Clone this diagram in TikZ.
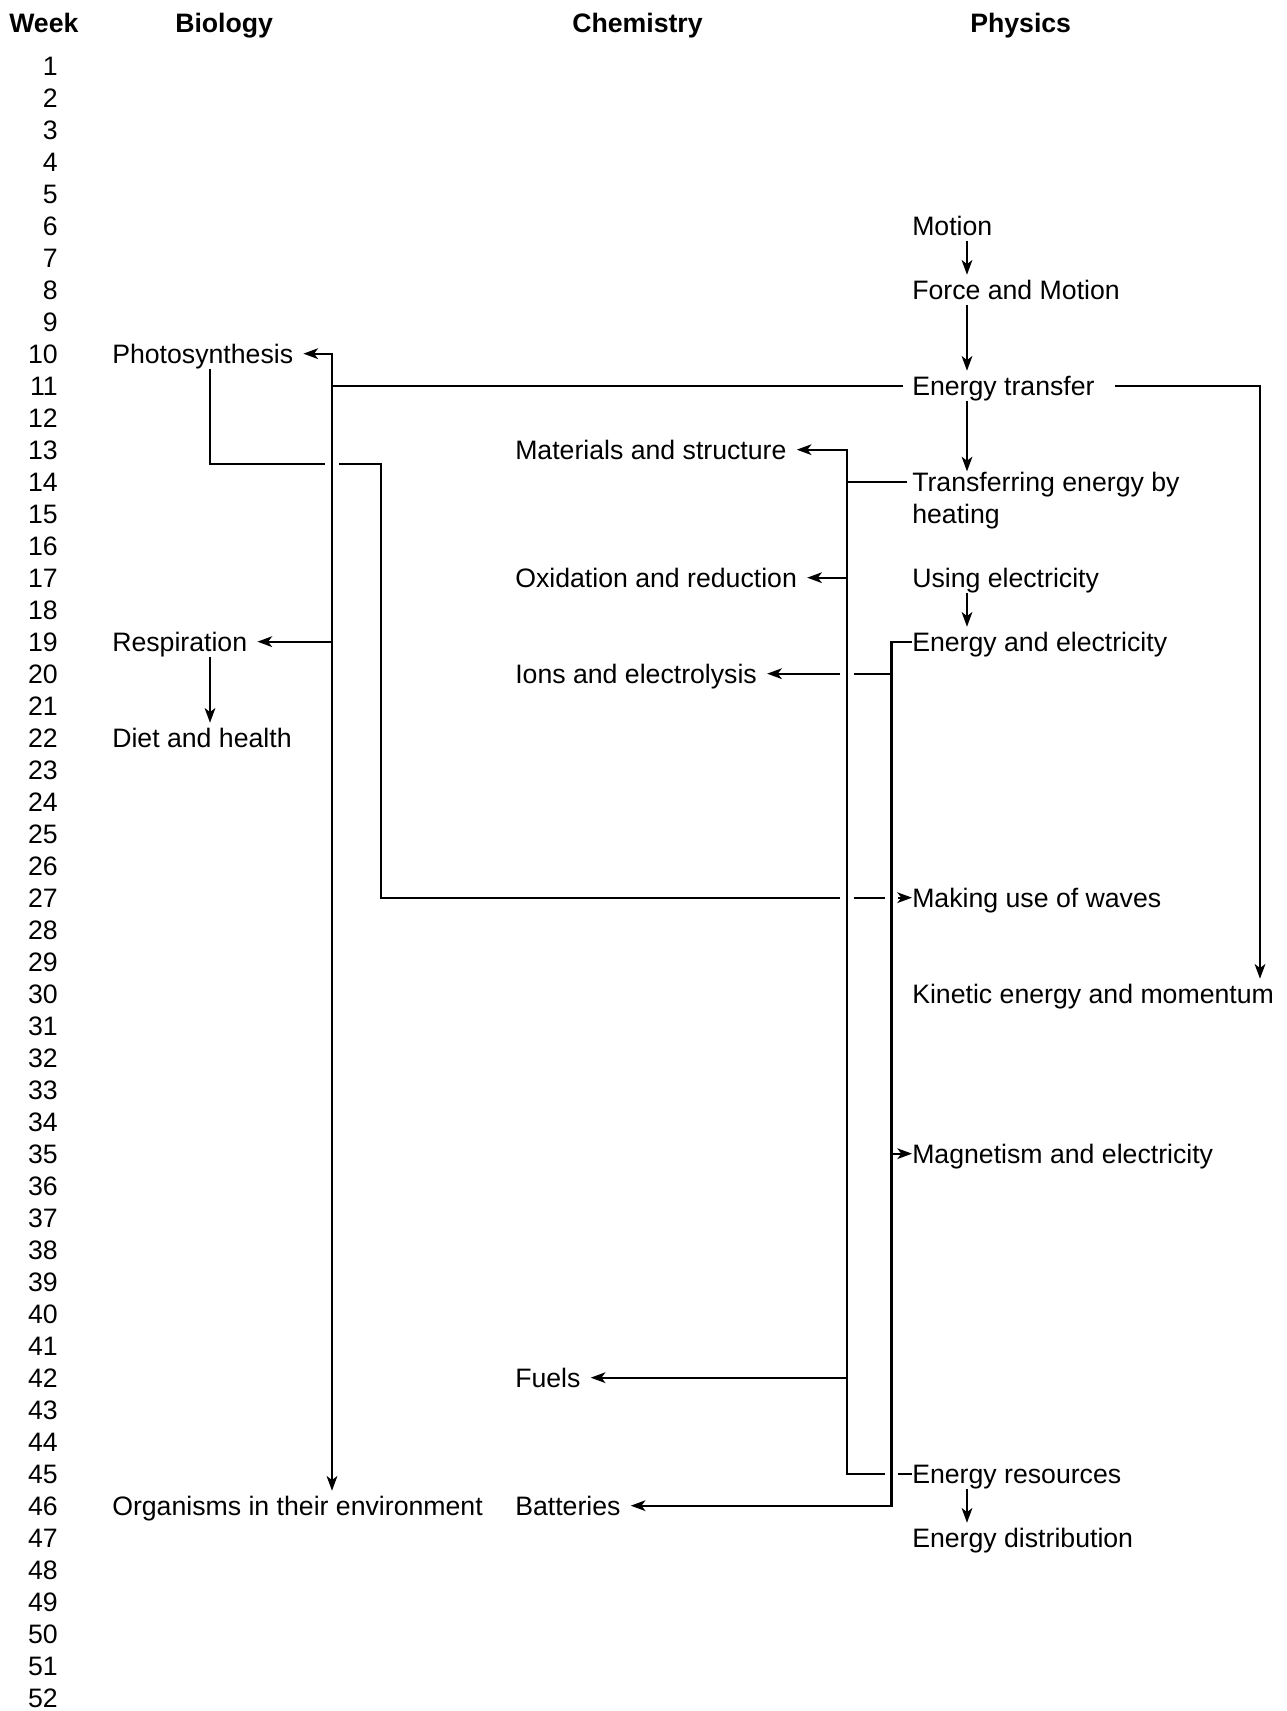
\documentclass[tikz,border=0pt]{standalone}
\usepackage{fontspec}
\setmainfont{Liberation Sans}
\usepackage{tikz}
\usetikzlibrary{arrows.meta, calc}

\begin{document}
\begin{tikzpicture}[
    x=0.75pt, y=-0.75pt,
    % Text styles
    headlabel/.style={anchor=base west, inner sep=0pt, font=\bfseries\fontsize{20}{24}\selectfont},
    weeklabel/.style={anchor=base east, inner sep=0pt, font=\fontsize{20}{24}\selectfont},
    topic/.style={anchor=base west, inner sep=0pt, text height=18pt, text depth=4pt, font=\fontsize{20}{24}\selectfont},
    twolinetopic/.style={anchor=base west, inner sep=0pt, align=left, font=\fontsize{20}{24}\selectfont},
    % Connector styles
    link/.style={line width=1.6pt, black},
    arrow/.style={link, -{Stealth[length=11pt, width=8pt, inset=3pt]}},
    toleft/.style={arrow, shorten >=7.5pt},
]
\useasboundingbox (0,0) rectangle (1286,1711);

% ============================================================================
% HEADERS AND WEEKS
% ============================================================================
\node[headlabel] (hweek) at (9,32) {Week};
\node[headlabel] (hbio) at (175,32) {Biology};
\node[headlabel] (hchem) at (572,32) {Chemistry};
\node[headlabel] (hphys) at (970,32) {Physics};

\foreach \w in {1,...,52}
  \node[weeklabel] (w\w) at (58,{43+32*\w}) {\w};

% columns and trunks
\coordinate (biox) at (112,0);
\coordinate (chemx) at (515,0);
\coordinate (physx) at (912,0);
\coordinate (biodown) at (210,0);
\coordinate (physdown) at (967,0);
\coordinate (biotrunk) at (332,0);
\coordinate (chemtrunk) at (847,0);
\coordinate (phystrunk) at (891.5,0);
\coordinate (farright) at (1260,0);
\coordinate (wavejog) at (381,464);

% ============================================================================
% BIOLOGY
% ============================================================================
\node[topic] (photo) at (biox |- w10.base) {Photosynthesis};
\node[topic] (resp) at (biox |- w19.base) {Respiration};
\node[topic] (diet) at (biox |- w22.base) {Diet and health};
\node[topic] (organisms) at (biox |- w46.base) {Organisms in their environment};

% ============================================================================
% CHEMISTRY
% ============================================================================
\node[topic] (materials) at (chemx |- w13.base) {Materials and structure};
\node[topic] (oxid) at (chemx |- w17.base) {Oxidation and reduction};
\node[topic] (ions) at (chemx |- w20.base) {Ions and electrolysis};
\node[topic] (fuels) at (chemx |- w42.base) {Fuels};
\node[topic] (batteries) at (chemx |- w46.base) {Batteries};

% ============================================================================
% PHYSICS
% ============================================================================
\node[topic] (motion) at (physx |- w6.base) {Motion};
\node[topic] (force) at (physx |- w8.base) {Force and Motion};
\node[topic] (etrans) at (physx |- w11.base) {Energy transfer};
% base of a two-line node is its last line (week 15)
\node[twolinetopic] (heating) at (physx |- w15.base) {Transferring energy by\\heating};
\node[topic] (useelec) at (physx |- w17.base) {Using electricity};
\node[topic] (eelec) at (physx |- w19.base) {Energy and electricity};
\node[topic] (waves) at (physx |- w27.base) {Making use of waves};
\node[topic] (kinetic) at (physx |- w30.base) {Kinetic energy and momentum};
\node[topic] (magnet) at (physx |- w35.base) {Magnetism and electricity};
\node[topic] (eres) at (physx |- w45.base) {Energy resources};
\node[topic] (edist) at (physx |- w47.base) {Energy distribution};

% ============================================================================
% CONNECTORS
% ============================================================================
% Physics sequence
\draw[arrow] (motion.south -| physdown) -- (force.north -| physdown);
\draw[arrow] (force.south -| physdown) -- (etrans.north -| physdown);
\draw[arrow] (etrans.south -| physdown) -- (heating.north -| physdown);
\draw[arrow] (useelec.south -| physdown) -- (eelec.north -| physdown);
\draw[arrow] (eres.south -| physdown) -- (edist.north -| physdown);
\draw[arrow] ([xshift=15pt]etrans.east) -| (kinetic.north -| farright);

% Energy transfer -> biology trunk
\draw[link] ([xshift=-7pt]etrans.west) -- (etrans.west -| biotrunk);
\draw[toleft] (etrans.west -| biotrunk) |- (photo.east);
\draw[arrow] (photo.east -| biotrunk) -- (organisms.north -| biotrunk);
\draw[toleft] (resp.east -| biotrunk) -- (resp.east);
\draw[arrow] (resp.south -| biodown) -- (diet.north -| biodown);

% Photosynthesis -> waves (gaps at crossings)
\draw[link] (photo.south -| biodown) |- ([xshift=-5pt]biotrunk |- wavejog);
\draw[link] ([xshift=5pt]biotrunk |- wavejog) -| (wavejog |- waves.west) -- ([xshift=-5pt]chemtrunk |- waves.west);
\draw[link] ([xshift=5pt]chemtrunk |- waves.west) -- ([xshift=-5pt]phystrunk |- waves.west);
\draw[arrow] ([xshift=5pt]phystrunk |- waves.west) -- (waves.west);

% Chemistry trunk
\draw[link] ([xshift=-4pt,yshift=31pt]heating.base west) -- ([yshift=31pt]heating.base west -| chemtrunk);
\draw[link] ([xshift=5pt]phystrunk |- eres.west) -- (eres.west);
\draw[toleft] ([xshift=-5pt]phystrunk |- eres.west) -| (materials.east -| chemtrunk) -- (materials.east);
\draw[toleft] (chemtrunk |- oxid.east) -- (oxid.east);
\draw[toleft] (chemtrunk |- fuels.east) -- (fuels.east);

% Physics trunk
\draw[toleft] (eelec.west) -| (phystrunk |- batteries.east) -- (batteries.east);
\draw[link] (phystrunk |- ions.east) -- ([xshift=5pt]chemtrunk |- ions.east);
\draw[toleft] ([xshift=-5pt]chemtrunk |- ions.east) -- (ions.east);
\draw[arrow] (phystrunk |- magnet.west) -- (magnet.west);

\end{tikzpicture}
\end{document}
